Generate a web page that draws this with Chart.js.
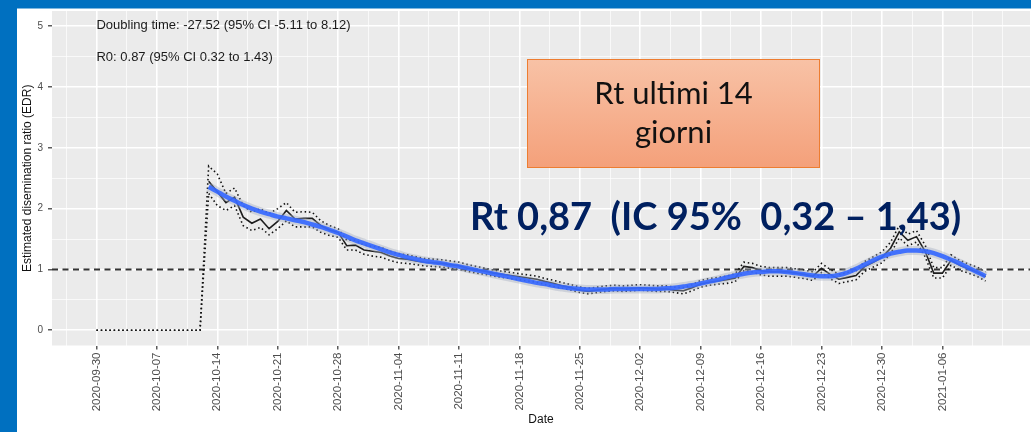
<!DOCTYPE html>
<html>
<head>
<meta charset="utf-8">
<script src="https://cdn.jsdelivr.net/npm/chart.js"></script>
<style>
html, body { margin: 0; padding: 0; background: #fff; overflow: hidden; }
#wrap { width: 1031px; height: 432px; }
</style>
</head>
<body>
<div id="wrap"><canvas id="rtChart" width="1031" height="432"></canvas></div>
<script>
// x is day number counted from 2020-09-30
const tickDays = [0, 7, 14, 21, 28, 35, 42, 49, 56, 63, 70, 77, 84, 91, 98]
const tickLabels = ['2020-09-30', '2020-10-07', '2020-10-14', '2020-10-21', '2020-10-28', '2020-11-04', '2020-11-11',
  '2020-11-18', '2020-11-25', '2020-12-02', '2020-12-09', '2020-12-16', '2020-12-23', '2020-12-30', '2021-01-06']
const firstEstimateDay = 13

// daily R estimate (days 13..103)
const meanR = [2.45, 2.28, 2.10, 2.19, 1.86, 1.76, 1.83, 1.67, 1.79, 1.97, 1.83, 1.84, 1.84, 1.72, 1.65, 1.61, 1.39, 1.40, 1.32,
  1.30, 1.28, 1.22, 1.18, 1.17, 1.14, 1.12, 1.11, 1.10, 1.08, 1.06, 1.02, 0.99, 0.97, 0.94, 0.92, 0.90, 0.88, 0.86, 0.84,
  0.80, 0.77, 0.73, 0.70, 0.66, 0.64, 0.66, 0.68, 0.69, 0.68, 0.69, 0.70, 0.69, 0.68, 0.68, 0.66, 0.65, 0.70, 0.76, 0.79,
  0.81, 0.83, 0.86, 1.05, 1.03, 0.98, 0.96, 0.96, 0.96, 0.94, 0.92, 0.89, 1.02, 0.92, 0.84, 0.87, 0.90, 1.05, 1.12, 1.20,
  1.35, 1.62, 1.48, 1.54, 1.30, 0.94, 0.94, 1.15, 1.07, 1.01, 0.96, 0.88]

// 95% CI bounds (days 0..103)
const upperCI = [0, 0, 0, 0, 0, 0, 0, 0, 0, 0, 0, 0, 0,
  2.70, 2.57, 2.25, 2.34, 2.05, 1.94, 2.00, 1.92, 2.00, 2.10, 1.94, 1.95, 1.94, 1.80, 1.72, 1.67, 1.48, 1.48, 1.40,
  1.38, 1.36, 1.30, 1.26, 1.24, 1.21, 1.18, 1.17, 1.16, 1.14, 1.12, 1.08, 1.05, 1.02, 0.99, 0.97, 0.95, 0.93, 0.91, 0.89,
  0.85, 0.82, 0.78, 0.75, 0.71, 0.69, 0.71, 0.73, 0.74, 0.73, 0.74, 0.75, 0.74, 0.73, 0.73, 0.71, 0.70, 0.75, 0.82, 0.85,
  0.87, 0.89, 0.93, 1.12, 1.10, 1.05, 1.03, 1.03, 1.03, 1.01, 0.99, 0.96, 1.10, 1.00, 0.92, 0.95, 0.98, 1.13, 1.21, 1.29,
  1.45, 1.72, 1.58, 1.64, 1.40, 1.03, 1.03, 1.24, 1.15, 1.09, 1.04, 0.96]
const lowerCI = [0, 0, 0, 0, 0, 0, 0, 0, 0, 0, 0, 0, 0,
  2.25, 2.05, 1.97, 2.05, 1.72, 1.64, 1.69, 1.57, 1.67, 1.80, 1.70, 1.70, 1.70, 1.61, 1.56, 1.53, 1.32, 1.32, 1.25,
  1.22, 1.20, 1.15, 1.11, 1.10, 1.08, 1.06, 1.05, 1.04, 1.02, 1.00, 0.97, 0.94, 0.92, 0.89, 0.87, 0.85, 0.83, 0.81, 0.79,
  0.75, 0.72, 0.69, 0.66, 0.62, 0.60, 0.62, 0.64, 0.65, 0.64, 0.65, 0.66, 0.65, 0.64, 0.64, 0.62, 0.60, 0.65, 0.71, 0.74,
  0.76, 0.77, 0.80, 0.98, 0.96, 0.91, 0.89, 0.89, 0.89, 0.87, 0.85, 0.82, 0.95, 0.85, 0.77, 0.80, 0.83, 0.97, 1.04, 1.11,
  1.26, 1.52, 1.39, 1.45, 1.21, 0.86, 0.86, 1.07, 0.99, 0.94, 0.89, 0.81]

// loess smooth (days 13..103)
const smoothR = [2.36, 2.28, 2.20, 2.13, 2.06, 2.00, 1.95, 1.91, 1.87, 1.84, 1.81, 1.78, 1.74, 1.70, 1.65, 1.60, 1.54, 1.48, 1.43,
  1.38, 1.33, 1.28, 1.24, 1.20, 1.17, 1.14, 1.12, 1.10, 1.07, 1.05, 1.02, 0.99, 0.96, 0.93, 0.90, 0.87, 0.84, 0.81, 0.78,
  0.76, 0.73, 0.71, 0.69, 0.68, 0.67, 0.67, 0.67, 0.68, 0.68, 0.68, 0.68, 0.68, 0.68, 0.69, 0.70, 0.72, 0.74, 0.77, 0.80,
  0.83, 0.87, 0.90, 0.93, 0.95, 0.96, 0.97, 0.97, 0.96, 0.94, 0.92, 0.90, 0.89, 0.89, 0.91, 0.95, 1.01, 1.08, 1.15, 1.21,
  1.26, 1.29, 1.31, 1.31, 1.30, 1.27, 1.22, 1.16, 1.10, 1.03, 0.96, 0.89]

const refValue = 1
const xMin = -5.15, xMax = 108.15
const yMin = -0.25, yMax = 5.25

const doublingText = 'Doubling time: -27.52 (95% CI -5.11 to 8.12)'
const r0Text = 'R0: 0.87 (95% CI 0.32 to 1.43)'
const boxLines = ['Rt ultimi 14', 'giorni']
const rtText = 'Rt 0,87  (IC 95%  0,32 \u2013 1,43)'

const fromStart = (arr, start) => arr.map((v, i) => ({x: start + i, y: v}))
const isMajorX = v => tickDays.includes(v)

const frame = {
    id: 'frame',
    beforeDraw(chart) {
        const c = chart.ctx
        const a = chart.chartArea
        c.save()
        c.fillStyle = '#ffffff'
        c.fillRect(0, 0, chart.width, chart.height)
        c.fillStyle = '#0070c0'
        c.fillRect(0, 0, chart.width, 8.5)
        c.fillRect(0, 0, 17, chart.height)
        c.fillStyle = '#ebebeb'
        c.fillRect(a.left, a.top, a.right - a.left, a.bottom - a.top)
        c.restore()
    },
    afterDatasetsDraw(chart) {
        const c = chart.ctx
        const xs = chart.scales.x
        c.save()
        c.fillStyle = '#1a1a1a'
        c.font = '13px "Liberation Sans", Arial, sans-serif'
        c.textBaseline = 'middle'
        c.textAlign = 'left'
        c.fillText(doublingText, xs.getPixelForValue(0), 25)
        c.fillText(r0Text, xs.getPixelForValue(0), 57)

        // orange box
        const bx = 527, by = 59, bw = 293, bh = 109
        const g = c.createLinearGradient(0, by, 0, by + bh)
        g.addColorStop(0, '#f8c2a6')
        g.addColorStop(1, '#f4a07a')
        c.fillStyle = g
        c.fillRect(bx, by, bw, bh)
        c.strokeStyle = '#ed7d31'
        c.lineWidth = 1
        c.strokeRect(bx + 0.5, by + 0.5, bw - 1, bh - 1)
        c.fillStyle = '#111111'
        c.textAlign = 'center'
        c.textBaseline = 'alphabetic'
        c.font = '31px Lato, "Open Sans", sans-serif'
        c.fillText(boxLines[0], bx + bw / 2, 104, 178)
        c.fillText(boxLines[1], bx + bw / 2, 143, 178)

        c.fillStyle = '#002060'
        c.textAlign = 'left'
        c.font = 'bold 38px Lato, "Open Sans", sans-serif'
        c.fillText(rtText, 470, 230, 492)
        c.restore()
    }
}

new Chart(document.getElementById('rtChart'), {
    type: 'line',
    data: {
        datasets: [{
            label: 'ref',
            data: [{x: xMin, y: refValue}, {x: xMax, y: refValue}],
            borderColor: '#333333',
            borderWidth: 2,
            borderDash: [6, 4.5],
            pointRadius: 0,
            order: 6
        }, {
            label: 'upper',
            data: fromStart(upperCI, 0),
            borderColor: '#111111',
            borderWidth: 1.6,
            borderDash: [1.5, 2.8],
            pointRadius: 0,
            order: 5
        }, {
            label: 'lower',
            data: fromStart(lowerCI, 0),
            borderColor: '#111111',
            borderWidth: 1.6,
            borderDash: [1.5, 2.8],
            pointRadius: 0,
            order: 5
        }, {
            label: 'mean',
            data: fromStart(meanR, firstEstimateDay),
            borderColor: '#1e1e1e',
            borderWidth: 1.6,
            pointRadius: 0,
            order: 4
        }, {
            label: 'band',
            data: fromStart(smoothR, firstEstimateDay),
            borderColor: 'rgba(160,170,190,0.4)',
            borderWidth: 9,
            cubicInterpolationMode: 'monotone',
            pointRadius: 0,
            order: 3
        }, {
            label: 'smooth',
            data: fromStart(smoothR, firstEstimateDay),
            borderColor: 'rgba(51,102,255,0.9)',
            borderWidth: 4.5,
            cubicInterpolationMode: 'monotone',
            pointRadius: 0,
            order: 2
        }]
    },
    options: {
        responsive: false,
        animation: false,
        devicePixelRatio: 1,
        layout: {padding: {left: 17, top: 9.5, right: 1, bottom: 0}},
        plugins: {legend: {display: false}, tooltip: {enabled: false}},
        scales: {
            x: {
                type: 'linear',
                min: xMin,
                max: xMax,
                afterBuildTicks: (scale) => {
                    const t = []
                    tickDays.forEach(d => { t.push({value: d - 3.5}); t.push({value: d}) })
                    t.push({value: 101.5}, {value: 105})
                    scale.ticks = t
                },
                afterFit: (scale) => { scale.height = 86.5 },
                ticks: {
                    autoSkip: false,
                    minRotation: 90,
                    maxRotation: 90,
                    padding: 3,
                    color: '#4d4d4d',
                    font: {family: '"Liberation Sans", Arial, sans-serif', size: 11.5},
                    callback: (v) => {
                        const i = tickDays.indexOf(v)
                        return i >= 0 ? tickLabels[i] : ''
                    }
                },
                grid: {
                    color: '#ffffff',
                    lineWidth: (ctx) => ctx.tick && isMajorX(ctx.tick.value) ? 1.6 : 0.7,
                    tickColor: (ctx) => ctx.tick && isMajorX(ctx.tick.value) ? '#333333' : 'rgba(0,0,0,0)',
                    tickLength: 4,
                    tickWidth: 1.2
                },
                border: {display: false},
                title: {
                    display: true,
                    text: 'Date',
                    color: '#111111',
                    font: {family: '"Liberation Sans", Arial, sans-serif', size: 12},
                    padding: {top: 0, bottom: 5}
                }
            },
            y: {
                min: yMin,
                max: yMax,
                afterBuildTicks: (scale) => {
                    const t = []
                    for (let v = 0; v <= 5; v += 0.5) t.push({value: v})
                    scale.ticks = t
                },
                afterFit: (scale) => { scale.width = 35 },
                ticks: {
                    padding: 5,
                    color: '#4d4d4d',
                    font: {family: '"Liberation Sans", Arial, sans-serif', size: 10},
                    callback: (v) => Number.isInteger(v) ? String(v) : ''
                },
                grid: {
                    color: '#ffffff',
                    lineWidth: (ctx) => ctx.tick && Number.isInteger(ctx.tick.value) ? 1.6 : 0.7,
                    tickColor: (ctx) => ctx.tick && Number.isInteger(ctx.tick.value) ? '#333333' : 'rgba(0,0,0,0)',
                    tickLength: 4,
                    tickWidth: 1.2
                },
                border: {display: false},
                title: {
                    display: true,
                    text: 'Estimated disemination ratio (EDR)',
                    color: '#111111',
                    font: {family: '"Liberation Sans", Arial, sans-serif', size: 12},
                    padding: {top: 3, bottom: 0}
                }
            }
        }
    },
    plugins: [frame]
});
</script>
</body>
</html>
